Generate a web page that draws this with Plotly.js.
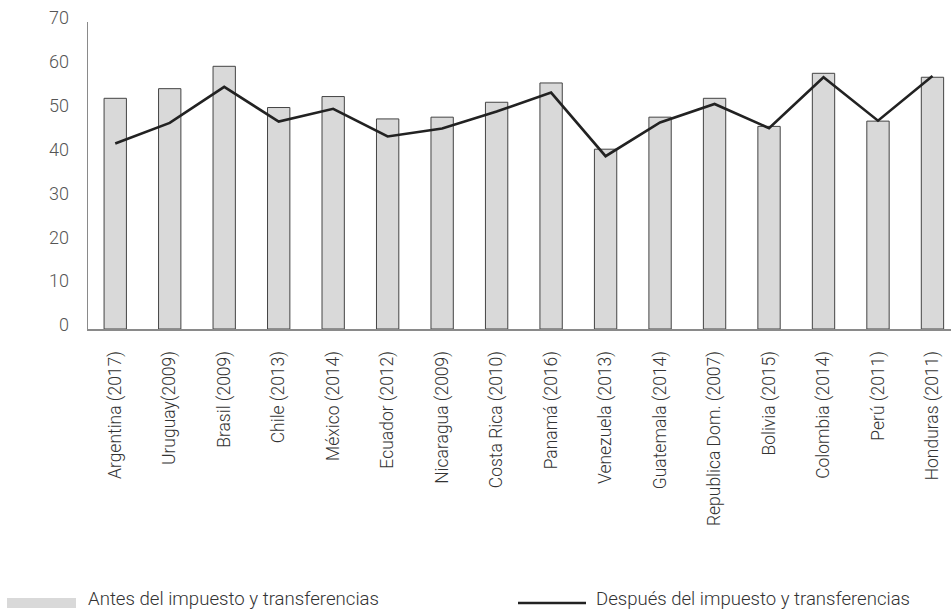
<!DOCTYPE html>
<html>
<head>
<meta charset="utf-8">
<script src="https://cdn.plot.ly/plotly-3.0.1.min.js"></script>
<style>html,body{margin:0;padding:0;background:#fff;}#chart{width:951px;height:609px;}</style>
</head>
<body>
<div id="chart"></div>
<script>
const categories = ["Argentina (2017)","Uruguay(2009)","Brasil (2009)","Chile (2013)","México (2014)","Ecuador (2012)","Nicaragua (2009)","Costa Rica (2010)","Panamá (2016)","Venezuela (2013)","Guatemala (2014)","Republica Dom. (2007)","Bolivia (2015)","Colombia (2014)","Perú (2011)","Honduras (2011)"];
const antes = [52.6, 54.8, 59.9, 50.5, 53.0, 47.9, 48.3, 51.7, 56.1, 41.0, 48.3, 52.6, 46.2, 58.3, 47.4, 57.4];
const despues = [42.3, 47.0, 55.2, 47.3, 50.2, 43.9, 45.7, 49.6, 53.9, 39.4, 47.1, 51.3, 45.8, 57.4, 47.5, 57.7];
const yTicks = [0, 10, 20, 30, 40, 50, 60, 70];
const legendLabels = ["Antes del impuesto y transferencias", "Después del impuesto y transferencias"];

const FONT = "Roboto, 'Open Sans', sans-serif";
const idx = categories.map((_, i) => i);

const traces = [
  {
    type: 'bar', x: idx, y: antes, name: legendLabels[0], width: 0.41,
    marker: {color: '#d9d9d9', line: {color: '#444444', width: 1}},
    hoverinfo: 'x+y'
  },
  {
    type: 'scatter', mode: 'lines', x: idx, y: despues, name: legendLabels[1],
    line: {color: '#222222', width: 2.6}
  }
];

const PW = 863, PH = 307.5, X0 = 88, Y0 = 329.5;
const px = v => (v - X0) / PW;
const py = v => -(v - Y0) / PH;

const layout = {
  width: 951, height: 609,
  margin: {l: 88, r: 0, t: 22, b: 279.5},
  paper_bgcolor: '#ffffff', plot_bgcolor: '#ffffff',
  showlegend: false,
  bargap: 0,
  xaxis: {
    range: [-0.5, 15.34],
    tickmode: 'array', tickvals: idx, ticktext: categories,
    tickangle: -90,
    showgrid: false, zeroline: false,
    showline: true, linecolor: '#8a8a8a', linewidth: 2,
    ticks: 'outside', ticklen: 13, tickcolor: 'rgba(0,0,0,0)',
    tickfont: {family: FONT, size: 17.5, color: '#333333', weight: 300}
  },
  yaxis: {
    range: [0, 70],
    tickmode: 'array', tickvals: yTicks, ticktext: yTicks.map(String),
    showgrid: false, zeroline: false,
    showline: true, linecolor: '#8a8a8a', linewidth: 1.5,
    ticks: 'outside', ticklen: 14, tickcolor: 'rgba(0,0,0,0)',
    ticklabelshift: -4,
    tickfont: {family: FONT, size: 18, color: '#555555', weight: 300}
  },
  shapes: [
    {type: 'rect', xref: 'paper', yref: 'paper', x0: px(7), x1: px(76),
     y0: py(609), y1: py(599),
     fillcolor: '#d9d9d9', line: {width: 0}},
    {type: 'line', xref: 'paper', yref: 'paper', x0: px(518), x1: px(586),
     y0: py(604), y1: py(604),
     line: {color: '#222222', width: 2.6}}
  ],
  annotations: [
    {xref: 'paper', yref: 'paper', x: px(86), y: py(600),
     xanchor: 'left', yanchor: 'middle', showarrow: false, text: legendLabels[0],
     font: {family: FONT, size: 17.5, color: '#333333', weight: 300}},
    {xref: 'paper', yref: 'paper', x: px(594), y: py(600),
     xanchor: 'left', yanchor: 'middle', showarrow: false, text: legendLabels[1],
     font: {family: FONT, size: 17.5, color: '#333333', weight: 300}}
  ]
};

const legendWidths = [291, 314];
Plotly.newPlot('chart', traces, layout, {displayModeBar: false, staticPlot: true}).then(gd => {
  const texts = gd.querySelectorAll('.annotation-text');
  texts.forEach((t, i) => {
    if (legendWidths[i]) {
      const bb = t.getBBox();
      t.setAttribute('textLength', legendWidths[i]);
      t.setAttribute('lengthAdjust', 'spacingAndGlyphs');
      t.setAttribute('text-anchor', 'start');
      t.setAttribute('x', bb.x);
    }
  });
});
</script>
</body>
</html>
